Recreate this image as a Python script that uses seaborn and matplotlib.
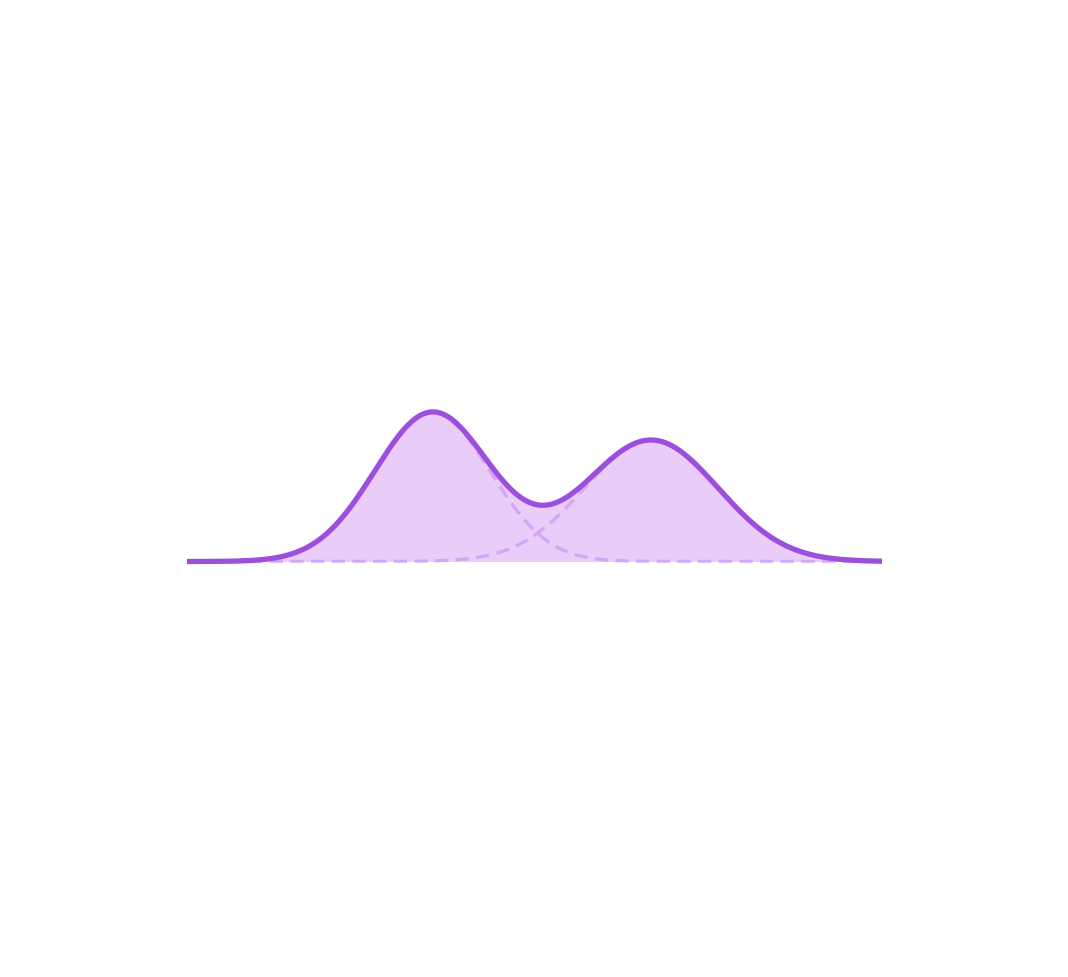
import numpy as np
import matplotlib
matplotlib.use("Agg")
import matplotlib.pyplot as plt
import seaborn as sns

sns.set_theme(style="white")

# two gaussian components
means = [-1.47, 1.68]
sds = [0.83, 0.96]
weights = [0.52, 0.49]

x_min, x_max = -5, 5

line_color = "#9b4fdd"
fill_color = "#e9ccf8"
comp_color = "#b87cf5"


def component(x, m, s, w):
    return w * np.exp(-0.5 * ((x - m) / s) ** 2) / (s * np.sqrt(2 * np.pi))


xs = np.linspace(x_min, x_max, 600)
parts = [component(xs, m, s, w) for m, s, w in zip(means, sds, weights)]
total = parts[0] + parts[1]

fig = plt.figure(figsize=(10.68, 9.78), dpi=100)
ax = fig.add_axes([187 / 1068, 415.5 / 978, 695 / 1068, 178.9 / 978])

ax.fill_between(xs, 0, total, color=fill_color, linewidth=0, zorder=1)

for p in parts:
    ax.plot(xs, p, color=comp_color, alpha=0.45, lw=2.4,
            dashes=(4.0, 2.2), zorder=2, clip_on=False)

sns.lineplot(x=xs, y=total, ax=ax, color=line_color, lw=3.8,
             zorder=3, sort=False)
for ln in ax.lines[-1:]:
    ln.set_clip_on(False)
    ln.set_solid_capstyle("butt")

ax.set_xlim(x_min, x_max)
ax.set_ylim(0, 0.3)
ax.axis("off")

fig.savefig("out.png", dpi=100, facecolor="white")
